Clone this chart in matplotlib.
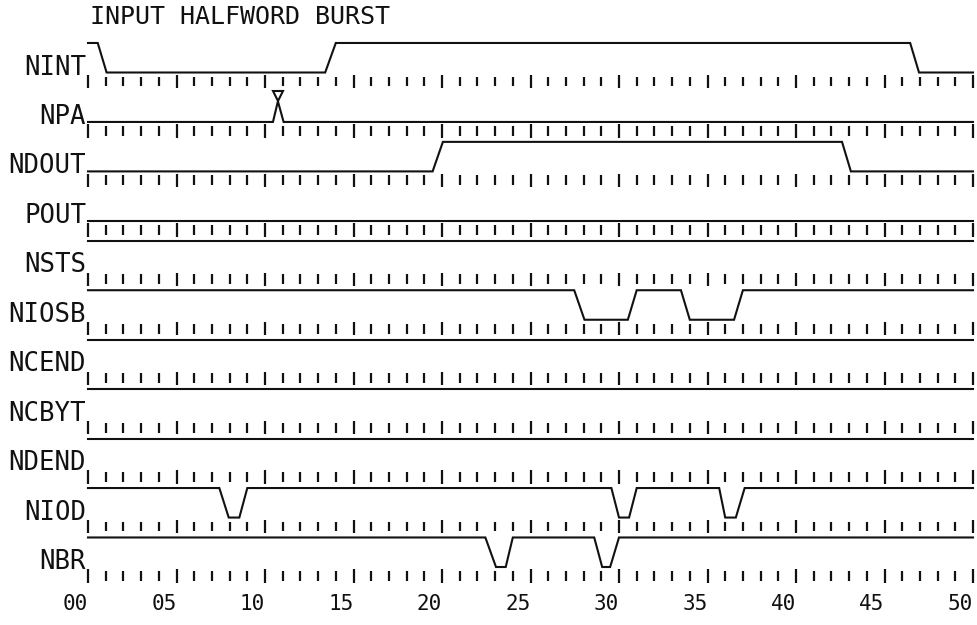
import matplotlib
matplotlib.use("Agg")
from matplotlib import pyplot as plt

title = "INPUT HALFWORD BURST"
signals = ["NINT", "NPA", "NDOUT", "POUT", "NSTS", "NIOSB",
           "NCEND", "NCBYT", "NDEND", "NIOD", "NBR"]

# waveforms: breakpoint times and levels (0 = low, 1 = high)
nint_t = [0, 0.55, 1.05, 13.4, 14.0, 46.45, 46.95, 50]
nint_v = [1, 1, 0, 0, 1, 1, 0, 0]
npa_t = [0, 10.45, 10.73, 11.05, 50]
npa_v = [0, 0, 0.7, 0, 0]
ndout_t = [0, 19.47, 20.05, 42.6, 43.1, 50]
ndout_v = [0, 0, 1, 1, 0, 0]
pout_t = [0, 50]
pout_v = [0, 0]
nsts_t = [0, 50]
nsts_v = [1, 1]
niosb_t = [0, 27.47, 28.05, 30.5, 31.0, 33.5, 34.0, 36.5, 37.0, 50]
niosb_v = [1, 1, 0, 0, 1, 1, 0, 0, 1, 1]
ncend_t = [0, 50]
ncend_v = [1, 1]
ncbyt_t = [0, 50]
ncbyt_v = [1, 1]
ndend_t = [0, 50]
ndend_v = [1, 1]
niod_t = [0, 7.42, 7.95, 8.55, 9.0, 29.57, 30.0, 30.57, 31.0,
          35.66, 36.0, 36.6, 37.1, 50]
niod_v = [1, 1, 0, 0, 1, 1, 0, 0, 1, 1, 0, 0, 1, 1]
nbr_t = [0, 22.45, 23.05, 23.6, 24.0, 28.6, 29.05, 29.5, 30.0, 50]
nbr_v = [1, 1, 0, 0, 1, 1, 0, 0, 1, 1]

waves = [(nint_t, nint_v), (npa_t, npa_v), (ndout_t, ndout_v),
         (pout_t, pout_v), (nsts_t, nsts_v), (niosb_t, niosb_v),
         (ncend_t, ncend_v), (ncbyt_t, ncbyt_v), (ndend_t, ndend_v),
         (niod_t, niod_v), (nbr_t, nbr_v)]

glitch_signal = "NPA"
glitch_time = 10.73

time_ticks = list(range(0, 51))
time_labels = ["00", "05", "10", "15", "20", "25", "30", "35", "40", "45", "50"]
label_times = [0, 5, 10, 15, 20, 25, 30, 35, 40, 45, 50]

ink = "#111111"
low_off = 0.182     # low level above the tick row
swing = 0.597       # high - low

fig = plt.figure(figsize=(9.77, 6.25), dpi=100)
ax = fig.add_axes([0, 0, 1, 1])
ax.set_xlim(-88 / 17.7, 889 / 17.7)
ax.set_ylim(-(625 - 81.5) / 49.45, 81.5 / 49.45)
ax.axis("off")

for i, (name, (t, v)) in enumerate(zip(signals, waves)):
    base = -i
    ys = [base + low_off + swing * lv for lv in v]
    ax.plot(t, ys, color=ink, lw=1.5, solid_joinstyle="miter")

    minor = [x for x in time_ticks if x % 5]
    major = [x for x in time_ticks if x % 5 == 0]
    ax.vlines(minor, base - 0.1, base + 0.1, color=ink, lw=1.6)
    ax.vlines(major, base - 0.135, base + 0.135, color=ink, lw=1.6)

    ax.text(-0.1, base + 0.14, name, ha="right", va="baseline",
            family="DejaVu Sans Mono", fontsize=18.5, color=ink)

    if name == glitch_signal:
        peak = max(ys)
        ax.plot([glitch_time], [peak + 0.1], marker="v", markersize=7.5,
                mfc="white", mec=ink, mew=1.5, ls="none")

ax.text(0.1, 1.314, title, ha="left", va="center",
        family="DejaVu Sans Mono", fontsize=18, color=ink)

for t, lab in zip(label_times, time_labels):
    ax.text(t, -10.566, lab, ha="right", va="center",
            family="DejaVu Sans Mono", fontsize=15, color=ink)

fig.savefig("out.png", dpi=100)
